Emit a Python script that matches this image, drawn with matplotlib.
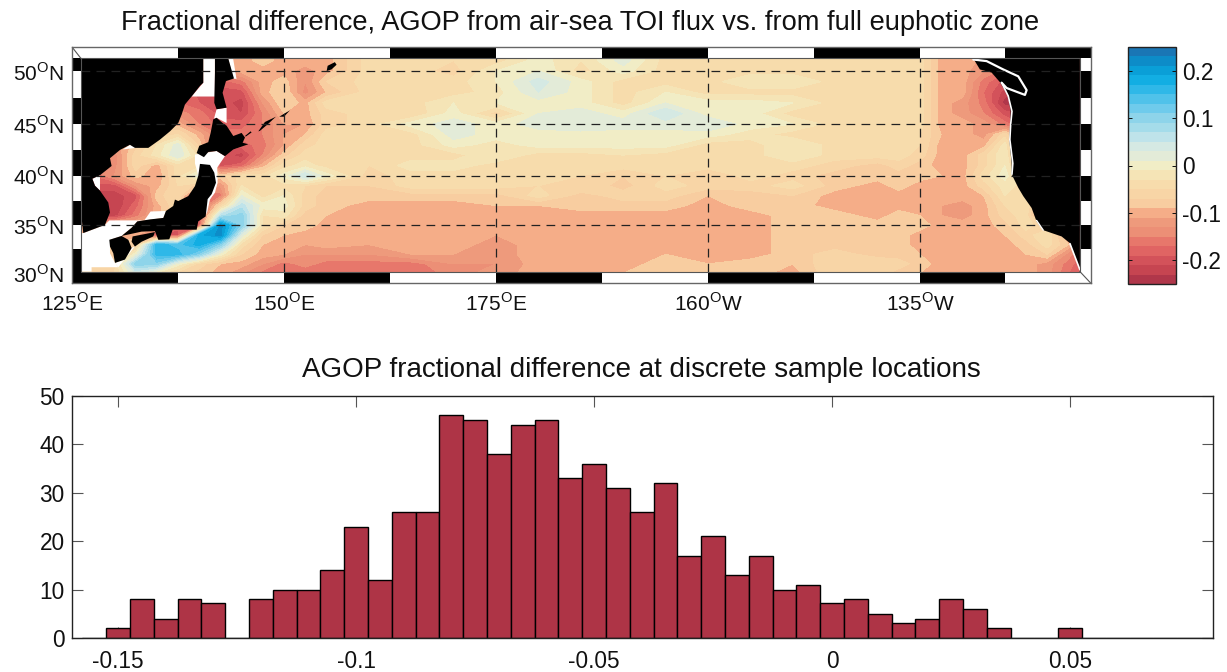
import numpy as np
import matplotlib
matplotlib.use("Agg")
import matplotlib.pyplot as plt
from matplotlib.patches import Rectangle

plt.rcParams['font.family'] = ['Liberation Sans', 'DejaVu Sans']
plt.rcParams['mathtext.fontset'] = 'custom'
plt.rcParams['mathtext.rm'] = 'Liberation Sans'
plt.rcParams['axes.unicode_minus'] = False

# ---------- colour field ----------
lons = [125, 127.5, 130, 132.5, 135, 137.5, 140, 142.5, 145, 147.5, 150, 152.5, 155, 160, 165, 170,
        175, 180, 185, 190, 195, 200, 205, 210, 215, 220, 222.5, 225, 227.5, 230, 232.5, 235, 237.5, 240, 242.5, 245]
lats = [30, 31, 32, 33, 34, 35, 36, 37, 38, 39, 40, 41, 42, 43, 44, 45, 46, 47, 48, 49, 50, 51, 52.4]
row30 = [-.05,-.05,-.05,.03,-.02,-.06,-.08,-.10,-.13,-.16,-.16,-.17,-.16,-.17,-.17,-.14,-.12,-.10,-.10,-.09,-.08,-.08,-.08,-.10,-.05,-.06,-.08,-.09,-.10,-.10,-.10,-.10,-.10,-.12,-.17,-.2]
row31 = [-.06,-.06,-.06,.10,.10,.0,-.06,-.09,-.10,-.13,-.16,-.14,-.16,-.16,-.16,-.13,-.13,-.10,-.10,-.10,-.08,-.09,-.08,-.09,-.05,-.05,-.06,-.08,-.10,-.10,-.10,-.10,-.10,-.12,-.16,-.2]
row32 = [-.08,-.08,-.08,.0,.16,.16,.10,.0,-.07,-.10,-.11,-.13,-.13,-.13,-.11,-.11,-.12,-.10,-.10,-.10,-.09,-.10,-.10,-.08,-.06,-.08,-.08,-.09,-.10,-.10,-.10,-.10,-.09,-.07,-.14,-.2]
row33 = [-.08,-.08,-.08,-.08,.16,.14,.18,.10,-.04,-.09,-.10,-.11,-.10,-.11,-.10,-.10,-.12,-.10,-.10,-.10,-.10,-.10,-.10,-.08,-.08,-.08,-.08,-.10,-.10,-.10,-.10,-.10,-.08,-.04,-.09,-.2]
row34 = [-.1,-.1,-.1,-.1,-.2,-.2,.18,.22,.02,-.07,-.09,-.10,-.10,-.10,-.10,-.10,-.11,-.10,-.10,-.10,-.10,-.10,-.10,-.08,-.08,-.08,-.08,-.10,-.10,-.10,-.10,-.09,-.06,-.03,-.12,-.2]
row35 = [-.1,-.1,-.1,-.1,-.1,-.18,-.18,.22,.10,-.03,-.07,-.08,-.10,-.10,-.10,-.10,-.10,-.10,-.10,-.10,-.10,-.10,-.10,-.08,-.08,-.08,-.08,-.08,-.10,-.10,-.10,-.08,-.04,-.07,-.2,-.2]
row36 = [-.22,-.22,-.22,-.16,-.1,-.05,-.2,.06,.10,-.03,-.02,-.08,-.09,-.10,-.10,-.10,-.10,-.10,-.10,-.10,-.10,-.10,-.10,-.08,-.08,-.10,-.08,-.09,-.11,-.12,-.10,-.06,-.04,-.2,-.2,-.2]
row37 = [-.23,-.23,-.23,-.18,-.1,-.05,-.2,-.06,.06,.0,.0,-.06,-.08,-.10,-.10,-.10,-.09,-.09,-.08,-.08,-.08,-.10,-.08,-.08,-.10,-.10,-.10,-.10,-.11,-.12,-.10,-.05,-.03,-.15,-.2,-.2]
row38 = [-.22,-.22,-.22,-.2,-.08,-.05,-.2,-.16,.01,-.04,-.01,-.06,-.08,-.08,-.08,-.08,-.08,-.04,-.08,-.06,-.06,-.09,-.08,-.07,-.10,-.10,-.10,-.10,-.10,-.10,-.09,-.03,-.04,-.17,-.2,-.2]
row39 = [-.2,-.2,-.2,-.13,-.1,-.05,-.08,-.13,-.03,-.04,-.04,-.05,-.07,-.07,-.04,-.04,-.04,-.05,-.05,-.08,-.04,-.06,-.06,-.04,-.08,-.10,-.08,-.10,-.10,-.10,-.06,-.02,-.04,-.13,-.2,-.2]
row40 = [-.17,-.17,-.13,-.08,-.11,-.04,.02,-.08,-.04,-.04,.0,.05,.0,-.06,-.04,-.04,-.04,-.04,-.05,-.07,-.05,-.07,-.04,-.06,-.08,-.08,-.08,-.08,-.09,-.10,-.04,.0,-.06,-.2,-.2,-.2]
row41 = [-.14,-.14,-.14,-.06,-.1,-.04,-.04,-.2,-.18,-.10,-.04,-.02,-.04,-.05,-.02,-.02,-.04,-.04,-.04,-.04,-.04,-.04,-.04,-.04,-.06,-.08,-.06,-.08,-.10,-.10,-.06,-.01,-.10,-.2,-.2,-.2]
row42 = [-.14,-.14,-.14,-.06,-.02,.03,-.04,-.2,-.22,-.15,-.08,-.04,-.04,-.04,-.04,-.04,-.01,-.04,-.04,-.03,-.04,-.04,-.04,-.01,-.04,-.04,-.04,-.06,-.10,-.10,-.06,-.01,-.16,-.2,-.2,-.2]
row43 = [-.12,-.12,-.12,-.08,-.03,.02,-.08,-.18,-.18,-.16,-.11,-.06,-.04,-.04,-.04,.0,-.02,.0,.0,.0,.0,-.04,-.04,-.01,-.04,-.04,-.04,-.05,-.10,-.10,-.10,-.02,-.16,-.2,-.2,-.2]
row44 = [-.1,-.1,-.1,-.1,-.06,-.05,-.1,-.16,-.16,-.15,-.11,-.09,-.04,-.04,-.04,.02,.0,.0,.0,.0,.0,.0,-.02,-.04,-.04,-.04,-.04,-.05,-.09,-.10,-.12,-.06,-.14,-.2,-.2,-.2]
row45 = [-.1,-.1,-.1,-.1,-.1,-.1,-.15,-.18,-.18,-.15,-.11,-.11,-.06,-.04,.0,.02,.0,.02,.03,.02,.02,.03,.0,-.01,-.04,-.04,-.04,-.04,-.10,-.10,-.12,-.16,-.2,-.2,-.2,-.2]
row46 = [-.14,-.14,-.14,-.14,-.14,-.14,-.16,-.2,-.21,-.15,-.09,-.10,-.06,-.04,-.05,.0,-.06,.01,.02,.0,.05,.0,.0,-.04,-.04,-.04,-.04,-.04,-.10,-.12,-.15,-.2,-.22,-.22,-.22,-.22]
row47 = [-.16,-.16,-.16,-.16,-.16,-.17,-.19,-.2,-.22,-.13,-.07,-.10,-.04,-.04,-.04,-.01,-.01,.0,.0,-.04,.01,.0,.0,-.01,-.04,-.04,-.04,-.04,-.10,-.12,-.16,-.24,-.24,-.24,-.24,-.24]
row48 = [-.16,-.16,-.16,-.16,-.16,-.16,-.2,-.2,-.2,-.10,-.07,-.14,-.09,-.04,-.04,-.04,-.02,.03,.0,-.04,-.01,-.04,-.04,-.04,-.04,-.04,-.04,-.04,-.10,-.10,-.17,-.22,-.24,-.24,-.24,-.24]
row49 = [-.15,-.15,-.15,-.15,-.15,-.15,-.18,-.18,-.16,-.10,-.08,-.13,-.07,-.04,-.04,-.04,-.01,.04,.0,-.04,-.04,-.04,-.01,-.01,-.04,-.04,-.04,-.04,-.10,-.10,-.16,-.20,-.22,-.22,-.22,-.22]
row50 = [-.1,-.1,-.1,-.1,-.1,-.1,-.1,-.12,-.10,-.10,-.10,-.12,-.10,-.04,-.04,-.06,-.01,.01,-.04,.0,-.04,-.04,-.04,-.04,-.04,-.04,-.04,-.04,-.10,-.10,-.13,-.16,-.18,-.2,-.2,-.2]
row51 = [-.1,-.1,-.1,-.1,-.1,-.1,-.1,-.1,-.10,-.08,-.10,-.10,-.10,-.04,-.04,-.05,-.04,.0,-.03,.02,-.04,-.04,-.04,-.04,-.04,-.04,-.04,-.04,-.10,-.09,-.12,-.14,-.14,-.14,-.14,-.14]
row52 = [-.1,-.1,-.1,-.1,-.1,-.1,-.1,-.1,-.10,-.08,-.10,-.10,-.10,-.04,-.04,-.05,-.04,.0,-.03,.02,-.04,-.04,-.04,-.04,-.04,-.04,-.04,-.04,-.10,-.09,-.12,-.14,-.14,-.14,-.14,-.14]
field_levels = [-.25,-.23,-.21,-.19,-.17,-.15,-.13,-.11,-.09,-.07,-.05,-.03,-.01,.01,.03,.05,.07,.09,.11,.13,.15,.17,.19,.21,.23,.25]
band_colors = ['#b0374a','#c64551','#d3525a','#e06463','#e7776b','#ec8f76','#ee9a7c','#f5ad88','#f8cda0',
               '#f8d5a6','#f7dcac','#f5e4b6','#f1edc6','#e3ebd8','#d5e9e3','#bfe3ea','#a5dcea','#8ed4ea',
               '#6fcbec','#50c2ea','#2fb8e8','#12aee3','#0a9fd7','#0d8cc8','#1a76b5']
cbar_ticks = [-.2, -.1, 0, .1, .2]
cbar_labels = ['-0.2', '-0.1', '0', '0.1', '0.2']

# ---------- geography (lon, lat) ----------
asia = [(126.06,51.2),(140.48,51.2),(140.48,48.9),(140.09,48.6),(139.1,47.6),(138.32,46.85),(137.93,45.9),(137.53,45.1),
        (136.55,44.3),(135.37,43.5),(134,42.7),(132.42,42.7),(131.83,43.0),(130.66,42.5),(129.48,41.7),(129.67,40.95),
        (128.3,40.05),(127.4,39.7),(127.71,39.0),(128.3,38.5),(129.28,37.3),(129.48,36.3),(128.89,35.05),(126.33,34.2),(126.06,36.3)]
sakhalin = [(141.86,51.2),(143.43,51.2),(144.1,49.3),(143.16,49.05),(142.76,47.95),(143.23,46.55),(142.05,46.4),(141.78,47.0),(141.86,49.85)]
hokkaido = [(141.66,45.45),(142.05,45.6),(142.84,45.05),(143.23,44.85),(144.02,43.85),(145.0,44.15),(145.4,43.7),(145.12,43.2),
            (145.79,43.05),(144.02,42.55),(143.04,41.9),(142.05,42.4),(141.07,42.3),(140.56,41.8),(139.7,42.2),(140.01,42.9),(141.07,43.25),(141.35,44.15)]
honshu = [(140.09,41.15),(141.27,41.05),(141.78,40.3),(141.98,39.3),(141.47,38.15),(141,37.65),(140.76,35.9),(139.89,35.4),(139.7,34.55),
          (136.87,34.55),(136.47,33.55),(135.18,33.5),(134.78,34.4),(133.21,34.35),(130.85,33.9),(132.03,34.75),(132.7,35.4),(134.19,35.6),
          (135.77,35.75),(136.08,36.45),(136.94,36.95),(137.14,37.6),(137.53,37.45),(138.71,37.95),(139.5,38.95),(139.89,40.0)]
kyushu = [(129.4,33.5),(130.85,33.9),(131.64,33.5),(132.03,32.65),(131.25,31.45),(130.07,31.1),(129.87,32.1),(129.48,32.8)]
shikoku = [(132.15,33.85),(134.78,34.3),(134.59,33.85),(133.21,33.3),(132.42,32.8),(132.03,33.3)]
kuril_a = [(146.97,44.3),(147.75,45.2),(149.05,45.7),(148.03,44.95),(147.16,44.35)]
kuril_b = [(149.44,45.7),(150.7,46.3),(150,45.7)]
kuril_c = [(145.4,43.85),(146.06,44.3),(146.18,44.2),(145.5,43.8)]
kuril_d = [(155.03,50),(155.15,50.5),(156,50.85),(156.2,50.6),(155.6,50.15)]
america = [(231.29,51.2),(232.07,50.15),(233.45,49.85),(234.43,48.95),(235.41,47.65),(235.69,46.2),(235.53,43.5),(235.81,41.2),(235.81,40.15),
           (236.59,38.8),(237.18,37.95),(238.17,36.75),(238.75,35.4),(239.54,34.5),(241.7,33.85),(242.69,33.15),(243.86,30.4),(243.86,51.2)]
land = [asia, sakhalin, hokkaido, honshu, kyushu, shikoku, kuril_a, kuril_b, kuril_c, kuril_d, america]

gap_okhotsk = [(140.48,51.2),(141.85,51.2),(141.85,47.6),(139.1,47.6),(140.48,48.9)]
gap_soya = [(142.05,46.4),(143.23,46.55),(143.23,45.1),(142.05,45.6),(141.74,45.5)]
gap_sakh_w = [(141.86,49.05),(142.53,49.05),(142.05,46.8),(141.86,47.0)]
gap_sakh_e = [(143.43,51.2),(144.0,51.2),(144.4,49.25),(144.0,49.3)]
gap_tohoku = [(139.5,42.05),(142.05,42.4),(143.04,41.9),(142.13,40.8),(142.17,39.3),(141.86,38.3),(141.27,37.6),(140.88,36.1),(139.9,39.95),(139.5,41.2)]
gap_yellow = [(126.06,34.2),(126.33,34.2),(128.89,35.05),(129.4,35.5),(133.53,35.5),(134.27,36.4),(136.08,36.45),(135.77,35.75),(132.7,35.4),
              (132.03,34.75),(130.85,33.9),(129.48,33.5),(129.48,32.1),(130.07,31.1),(130.46,30.65),(127.31,30.65),(127.31,30.2),(126.06,30.2)]
gap_kyushu = [(132.03,32.65),(132.42,32.8),(130.46,30.65),(130.07,31.1),(131.25,31.45)]
gap_korea = [(127.4,39.7),(128.3,40.05),(128.3,38.5),(127.71,39.0)]
gap_west = [(126.06,37.6),(126.5,36.9),(126.06,36.8)]
gap_bump = [(131.0,42.55),(131.85,43.0),(132.6,42.7)]
gaps = [gap_okhotsk, gap_soya, gap_sakh_w, gap_sakh_e, gap_tohoku, gap_yellow, gap_kyushu, gap_korea, gap_west, gap_bump]

puget_line = [(231.29,51.1),(232.86,50.95),(234.82,50.15),(236.59,49.5),(237.58,48.2),(237.38,47.75),(235.22,48.4),(234.63,48.9)]
us_coast_line = [(234.63,48.9),(235.41,47.65),(235.85,46.2),(235.7,45.0),(235.6,43.5),(235.95,41.2),(235.85,40.15)]
us_south_line = [(238.75,35.5),(239.54,34.5)]
us_ca_line = [(242.69,33.1),(243.86,30.4)]

graticule_lons = [150, 175, 200, 225]
graticule_lats = [35, 40, 45, 50]
lon_ticks = [125, 150, 175, 200, 225]
lon_labels = ['125$^{\\mathrm{O}}$E', '150$^{\\mathrm{O}}$E', '175$^{\\mathrm{O}}$E', '160$^{\\mathrm{O}}$W', '135$^{\\mathrm{O}}$W']
lat_ticks = [30, 35, 40, 45, 50]
lat_labels = ['30$^{\\mathrm{O}}$N', '35$^{\\mathrm{O}}$N', '40$^{\\mathrm{O}}$N', '45$^{\\mathrm{O}}$N', '50$^{\\mathrm{O}}$N']
strip_lon_edges = [125, 137.5, 150, 162.5, 175, 187.5, 200, 212.5, 225, 235, 245.17]
strip_lat_edges = [30.2, 32.5, 35, 37.5, 40, 42.5, 45, 47.5, 50, 51.2]

# ---------- histogram ----------
bin_centers = [-.155, -.15, -.145, -.14, -.135, -.13, -.125, -.12, -.115, -.11, -.105, -.10, -.095, -.09, -.085, -.08, -.075,
               -.07, -.065, -.06, -.055, -.05, -.045, -.04, -.035, -.03, -.025, -.02, -.015, -.01, -.005, 0, .005, .01, .015,
               .02, .025, .03, .035, .04, .045, .05, .055, .06, .065, .07, .075, .08]
counts = [0, 2, 8, 4, 8, 7.2, 0, 8, 10, 10, 14, 23, 12, 26, 26, 46, 45, 38, 44, 45, 33, 36, 31, 26, 32, 17, 21, 13, 17, 10, 11,
          7.2, 8, 5, 3, 4, 8, 6, 2, 0, 0, 2, 0, 0, 0, 0, 0, 0]
hist_xticks = [-.15, -.1, -.05, 0, .05]
hist_xlabels = ['-0.15', '-0.1', '-0.05', '0', '0.05']
hist_yticks = [0, 10, 20, 30, 40, 50]

W, H = 1227, 672
FS = 16.3
FS_MAP = 15
fig = plt.figure(figsize=(W/100, H/100), dpi=100)

def box(l, t, r, b):
    return [l/W, 1-b/H, (r-l)/W, (b-t)/H]

# ---------- map ----------
ax = fig.add_axes(box(72, 47, 1091, 283.4))
lat_knots = [29, 30, 35, 40, 45, 50, 52.4]
pos_knots = [-283.4, -273.5, -225.5, -176, -124.5, -71.5, -46.5]
ax.set_yscale('function', functions=(lambda v: np.interp(v, lat_knots, pos_knots),
                                     lambda v: np.interp(v, pos_knots, lat_knots)))
ax.set_xlim(125, 245.17)
ax.set_ylim(29, 52.3)
Z = np.array([row30, row31, row32, row33, row34, row35, row36, row37, row38, row39, row40, row41, row42, row43,
              row44, row45, row46, row47, row48, row49, row50, row51, row52])
cs = ax.contourf(lons, lats, Z, levels=field_levels, colors=band_colors, zorder=1)
for g in gaps:
    ax.fill(*zip(*g), color='white', lw=0, zorder=2)
for p in land:
    ax.fill(*zip(*p), color='black', lw=0, zorder=3)
for ln, lw_ in ((puget_line, 1.6), (us_coast_line, 1.2), (us_south_line, 1.0), (us_ca_line, 1.2)):
    ax.plot(*zip(*ln), color='white', lw=lw_, zorder=3.5, solid_capstyle='round')
for v in graticule_lons:
    ax.plot([v, v], [30.2, 51.2], color='#222222', lw=0.9, dashes=(7, 5), zorder=4)
for v in graticule_lats:
    ax.plot([126.06, 243.86], [v, v], color='#222222', lw=0.9, dashes=(7, 5), zorder=4)
for i in range(len(strip_lon_edges)-1):
    x0, x1 = strip_lon_edges[i], strip_lon_edges[i+1]
    top_c, bot_c = ('white', 'black') if i % 2 == 0 else ('black', 'white')
    ax.add_patch(Rectangle((x0, 51.2), x1-x0, 1.3, fc=top_c, ec='none', zorder=5))
    ax.add_patch(Rectangle((x0, 29), x1-x0, 1.2, fc=bot_c, ec='none', zorder=5))
for i in range(len(strip_lat_edges)-1):
    y0, y1 = strip_lat_edges[i], strip_lat_edges[i+1]
    left_c, right_c = ('black', 'white') if i % 2 == 0 else ('white', 'black')
    ax.add_patch(Rectangle((125, y0), 1.06, y1-y0, fc=left_c, ec='none', zorder=5))
    ax.add_patch(Rectangle((243.86, y0), 1.31, y1-y0, fc=right_c, ec='none', zorder=5))
ax.plot([126.06, 243.86, 243.86, 126.06, 126.06], [51.2, 51.2, 30.2, 30.2, 51.2], color='#555555', lw=0.8, zorder=6)
ax.plot([125, 126.06], [52.3, 51.2], color='#555555', lw=0.8, zorder=6)
ax.plot([243.86, 245.17], [30.2, 29], color='#555555', lw=0.8, zorder=6)
for s in ax.spines.values():
    s.set_color('#666666')
    s.set_linewidth(1.0)
    s.set_zorder(7)
ax.set_xticks(lon_ticks)
ax.set_xticklabels(lon_labels, fontsize=FS_MAP)
ax.set_yticks(lat_ticks)
ax.set_yticklabels(lat_labels, fontsize=FS_MAP)
ax.minorticks_off()
ax.tick_params(axis='both', length=0, colors='#111111')
ax.tick_params(axis='x', pad=6)
ax.tick_params(axis='y', pad=5.5)
fig.text(580/W, 1-30/H, 'Fractional difference, AGOP from air-sea TOI flux vs. from full euphotic zone',
         fontsize=19.6, ha='center', va='baseline', color='#111111')

# ---------- colour bar ----------
cax = fig.add_axes(box(1127.5, 47, 1175.5, 284))
cb = fig.colorbar(cs, cax=cax, ticks=cbar_ticks, spacing='proportional', drawedges=False)
cb.ax.set_yticklabels(cbar_labels, fontsize=FS)
cb.ax.tick_params(axis='y', direction='in', length=3, left=True, right=True, pad=4.5, width=0.7, colors='#111111')
cb.outline.set_edgecolor('#222222')
cb.outline.set_linewidth(1.0)

# ---------- histogram ----------
ah = fig.add_axes(box(72, 396, 1213, 638))
ah.bar(bin_centers, counts, width=0.005, facecolor='#ae3446', edgecolor='black', linewidth=1.0, zorder=2)
ah.set_xlim(-0.1597, 0.08)
ah.set_ylim(0, 50)
ah.set_xticks(hist_xticks)
ah.set_xticklabels(hist_xlabels, fontsize=FS)
ah.set_yticks(hist_yticks)
ah.set_yticklabels([str(v) for v in hist_yticks], fontsize=FS)
ah.tick_params(axis='both', direction='in', length=8, width=0.8, top=True, right=True, color='#555555', labelcolor='#111111')
ah.tick_params(axis='x', pad=9)
ah.tick_params(axis='y', pad=5.3)
for s in ah.spines.values():
    s.set_linewidth(1.0)
    s.set_color('#222222')
fig.text(641/W, 1-377/H, 'AGOP fractional difference at discrete sample locations',
         fontsize=20, ha='center', va='baseline', color='#111111')

fig.savefig('out.png', dpi=100)
